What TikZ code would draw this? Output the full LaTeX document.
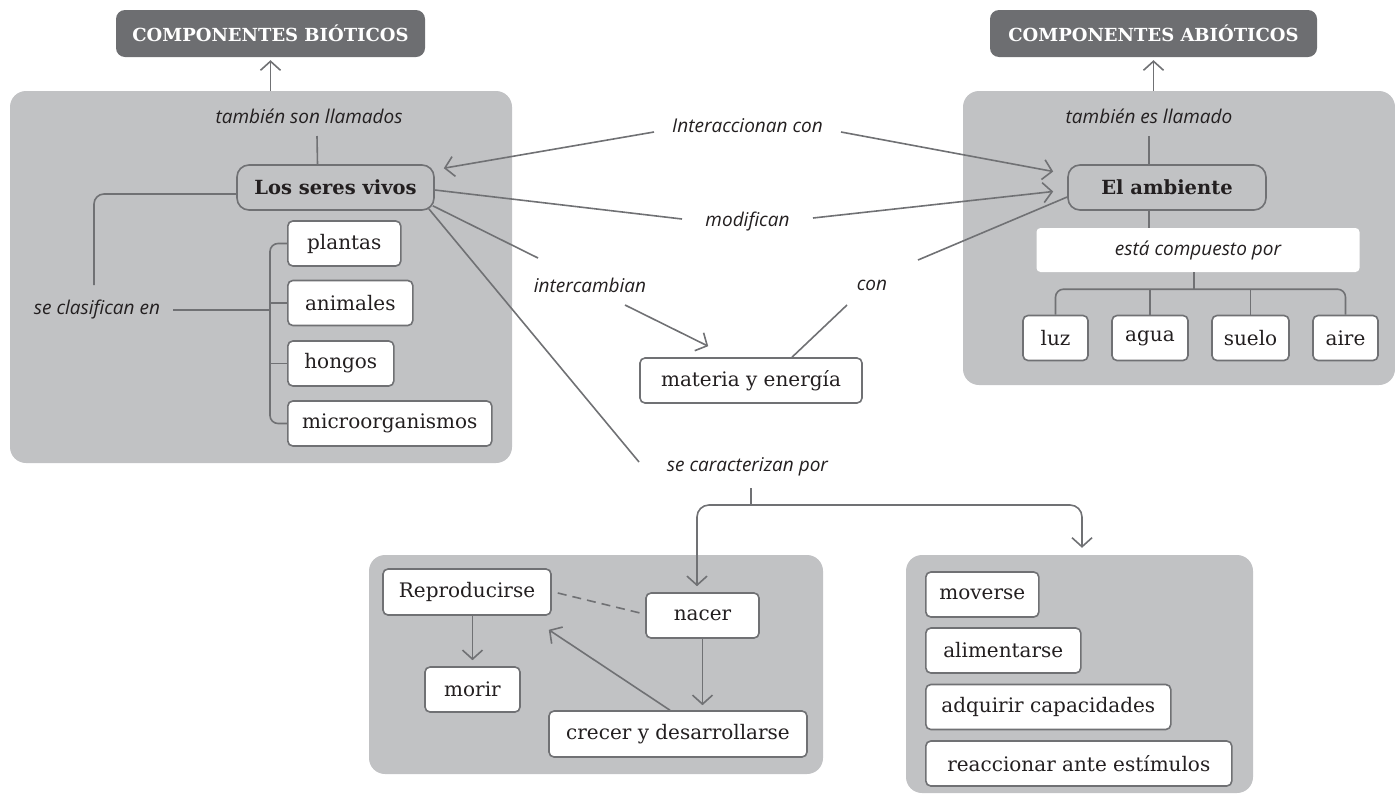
\documentclass[tikz,border=0pt]{standalone}
\usepackage{fontspec}
\setmainfont{DejaVu Serif}
\newfontfamily\lblfont{Open Sans}
\usetikzlibrary{arrows.meta,calc,positioning}
\definecolor{panelgray}{RGB}{193,194,196}
\definecolor{titlegray}{RGB}{109,110,113}
\definecolor{linegray}{RGB}{112,113,116}
\definecolor{inkblack}{RGB}{35,31,32}

\begin{document}
\begin{tikzpicture}[
      x=1pt, y=-1pt,
      font=\fontsize{20}{24}\selectfont, text=inkblack,
      panel/.style={fill=panelgray, rounded corners=16pt, inner sep=0pt},
      titlebox/.style={fill=titlegray, text=white, rounded corners=9pt,
        minimum height=47pt, font=\fontsize{18}{21}\selectfont\bfseries},
      box/.style={draw=linegray, fill=white, line width=1.6pt,
        rounded corners=5pt, minimum height=45pt, inner xsep=4pt},
      mainbox/.style={box, fill=panelgray, rounded corners=12pt,
        font=\fontsize{19.5}{23}\selectfont\bfseries},
      lbl/.style={font=\lblfont\fontsize{19}{22}\selectfont\itshape,
        inner sep=2pt},
      conn/.style={draw=linegray, line width=1.6pt},
      arr/.style={conn, -{Straight Barb[length=9pt, width=20pt]}}
    ]
    \useasboundingbox (0,0) rectangle (1395,796);

    \node[panel, minimum width=502, minimum height=372] (seresp) at (261,277) {};
    \node[panel, minimum width=432, minimum height=294] (ambp) at (1179,238) {};
    \node[panel, minimum width=454, minimum height=219] (ciclo) at (596,664.5) {};
    \node[panel, minimum width=347, minimum height=238] (rasgos) at (1079.5,674) {};

    \node[titlebox, minimum width=309] (bioticos) at (270.5,33.5) {COMPONENTES BIÓTICOS};
    \node[titlebox, minimum width=327] (abioticos) at (1153.5,33.5) {COMPONENTES ABIÓTICOS};

    \node[lbl] (sonllam) at (309,116) {también son llamados};
    \node[mainbox, minimum width=197] (seres) at (335.5,187.5) {Los seres vivos};
    \node[lbl] (clasif) at (97,310) {se clasifican en};
    \node[box, anchor=west, minimum width=113] (plantas) at (287,243.5) {plantas};
    \node[box, anchor=west, minimum width=125] (animales) at (287,303) {animales};
    \node[box, anchor=west, minimum width=106] (hongos) at (287,363.5) {hongos};
    \node[box, anchor=west, minimum width=204] (micro) at (287,423.5) {microorganismos};
    \draw[arr, shorten >=3pt] (seresp.north -| bioticos.south) -- (bioticos.south);
    \draw[conn] ($(seres.north)+(-18,0)$) -- ($(sonllam.center)+(8,20)$);
    \draw[conn, rounded corners=10pt] ($(seres.west)+(0,6.5)$) -| ($(clasif.center)+(-3,-25)$);
    \draw[conn] ($(clasif.center)+(76,0)$) -- ($(plantas.west |- clasif.center)+(-17,0)$);
    \draw[conn, rounded corners=8pt] (plantas.west) -- ++(-17,0) |- (micro.west);
    \draw[conn] (animales.west) -- ++(-17,0);
    \draw[conn] (hongos.west) -- ++(-17,0);

    \node[lbl] (esllam) at (1149,116) {también es llamado};
    \node[mainbox, minimum width=198] (amb) at (1167,187.5) {El ambiente};
    \node[lbl, fill=white, rounded corners=4pt, minimum width=323,
      minimum height=44] (compuesto) at (1198,250) {está compuesto por};
    \node[box, minimum width=65] (luz) at (1055.5,338) {luz};
    \node[box, minimum width=76] (agua) at (1150,338) {agua};
    \node[box, minimum width=77] (suelo) at (1250.5,338) {suelo};
    \node[box, minimum width=65] (aire) at (1345.5,338) {aire};
    \draw[arr, shorten >=3pt] (ambp.north -| abioticos.south) -- (abioticos.south);
    \draw[conn] (amb.north -| esllam.center) -- ($(esllam.center)+(0,20)$);
    \draw[conn] (amb.south -| esllam.center) -- (compuesto.north -| esllam.center);
    \coordinate (hub) at ($(compuesto.south)+(-4,17)$);
    \draw[conn] ($(compuesto.south)+(-4,0)$) -- (hub);
    \draw[conn, rounded corners=8pt] (luz.north) |- (hub) -| (aire.north);
    \draw[conn] (agua.north) -- (agua.north |- hub);
    \draw[conn] (suelo.north) -- (suelo.north |- hub);

    \node[lbl] (inter) at (747.5,126) {Interaccionan con};
    \node[lbl] (modif) at (747.5,222) {modifican};
    \node[lbl] (interc) at (590,285) {intercambian};
    \node[lbl] (con) at (872,285) {con};
    \node[box, minimum width=222] (materia) at (751,380.5) {materia y energía};
    \node[lbl] (carac) at (747.5,467) {se caracterizan por};
    \draw[arr] ($(inter.center)+(-93.5,6)$) -- ($(seres.north east)+(9,4)$);
    \draw[arr] ($(inter.center)+(93.5,6)$) -- ($(amb.west)+(-14,-16)$);
    \draw[conn] ($(seres.east)+(0,2.5)$) -- ($(modif.center)+(-65.5,-3)$);
    \draw[arr] ($(modif.center)+(65.5,-4)$) -- ($(amb.west)+(-14,4)$);
    \draw[conn] ($(seres.south east)+(-2,-5)$) -- ($(interc.center)+(-52,-27)$);
    \draw[arr] ($(interc.center)+(35,20)$) -- ($(materia.north west)+(69,-11)$);
    \draw[conn] ($(amb.west)+(0,9.5)$) -- ($(con.center)+(46,-25)$);
    \draw[conn] ($(con.center)+(-25,20)$) -- ($(materia.north)+(41,0)$);
    \draw[conn] ($(seres.south east)+(-6,-2)$) -- ($(carac.center)+(-108.5,-5)$);
    \coordinate (split) at ($(carac.center)+(3.5,38)$);
    \draw[conn] ($(carac.center)+(3.5,21)$) -- (split);

    \node[box, minimum width=168, minimum height=46] (repro) at (467,592) {Reproducirse};
    \node[box, minimum width=113] (nacer) at (702.5,615.5) {nacer};
    \node[box, minimum width=95] (morir) at (472.5,689.5) {morir};
    \node[box, minimum width=258, minimum height=46] (crecer) at (678,734) {crecer y desarrollarse};
    \draw[arr, rounded corners=12pt] (split) -| ($(nacer.north)+(-5.5,-6)$);
    \draw[arr, rounded corners=12pt] (split) -| ($(rasgos.north)+(2.5,-7)$);
    \draw[conn, dash pattern=on 9pt off 6pt] ($(repro.east)+(6,1)$) -- ($(nacer.west)+(-1,-1.5)$);
    \draw[arr] (repro.south -| morir.north) -- ($(morir.north)+(0,-6)$);
    \draw[arr] (nacer.south) -- ($(nacer.south |- crecer.north)+(0,-5)$);
    \draw[arr] ($(crecer.north)+(-8,0)$) -- ($(repro.south east)+(-3,14)$);

    \node[box, anchor=west, minimum width=113] (moverse) at (925,594.5) {moverse};
    \node[box, anchor=west, minimum width=155] (aliment) at (925,650.5) {alimentarse};
    \node[box, anchor=west, minimum width=245] (adquirir) at (925,707) {adquirir capacidades};
    \node[box, anchor=west, minimum width=306] (reacc) at (925,763.5) {reaccionar ante estímulos};
  \end{tikzpicture}
\end{document}
